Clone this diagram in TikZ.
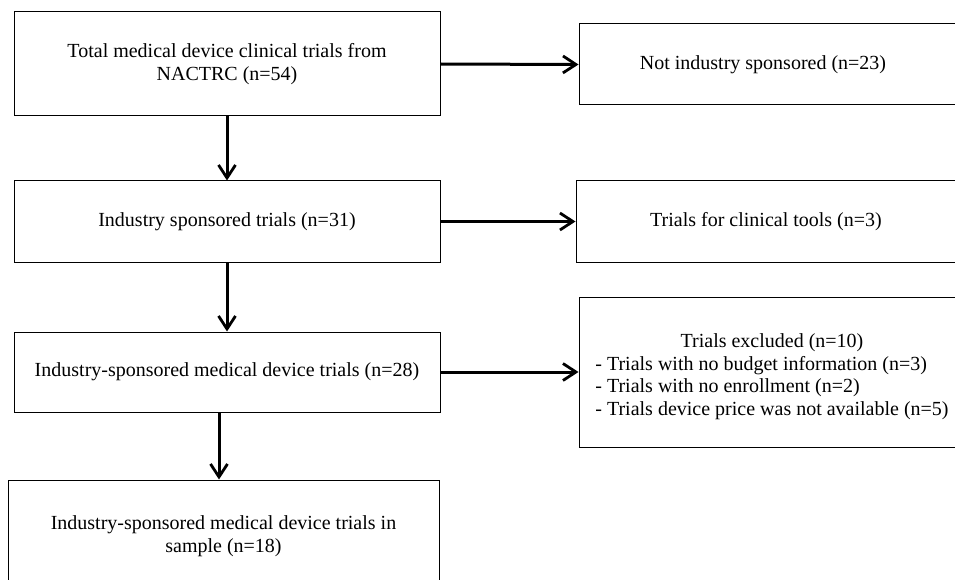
\documentclass[tikz,border=0pt]{standalone}
\usepackage{fontspec}
\setmainfont{Liberation Serif}
\usetikzlibrary{arrows.meta}
\begin{document}
\begin{tikzpicture}[x=1pt,y=-1pt,
  box/.style={draw, line width=1pt, rectangle, inner sep=0pt, align=center,
    font=\fontsize{20}{22.5}\selectfont},
  arr/.style={line width=3pt, -{Straight Barb[length=13pt,width=17pt,line width=2.8pt]}}]
\useasboundingbox (0,0) rectangle (955,580);
\clip (0,0) rectangle (955,580);
\node[box, minimum width=426pt, minimum height=104pt] (b1) at (227,64)
  {Total medical device clinical trials from\\NACTRC (n=54)};
\node[box, minimum width=386pt, minimum height=81pt] (b2) at (772,64.5)
  {Not industry sponsored (n=23)\hspace*{18pt}};
\node[box, minimum width=426pt, minimum height=81pt] (b3) at (227,221.5)
  {Industry sponsored trials (n=31)};
\node[box, minimum width=389pt, minimum height=81pt] (b4) at (770.5,221.5)
  {Trials for clinical tools (n=3)\hspace*{9pt}};
\node[box, minimum width=426pt, minimum height=80pt] (b5) at (227,372)
  {Industry-sponsored medical device trials (n=28)};
\node[box, minimum width=386pt, minimum height=150pt] (b6) at (772,372)
  {\raisebox{-5pt}[\height][\depth]{\begin{tabular}{@{}l@{}}
   \multicolumn{1}{@{}c@{}}{Trials excluded (n=10)}\\
   - Trials with no budget information (n=3)\\
   - Trials with no enrollment (n=2)\\
   - Trials device price was not available (n=5)
   \end{tabular}}};
\node[box, minimum width=431pt, minimum height=112pt] (b7) at (223.5,536)
  {Industry-sponsored medical device trials in\\sample (n=18)};
\draw[arr] (b1.east) -- (b2.west);
\draw[arr] (b1.south) -- (b3.north);
\draw[arr] (b3.east) -- (b4.west);
\draw[arr] (b3.south) -- (b5.north);
\draw[arr] (b5.east) -- (b6.west);
\draw[arr] ([xshift=-8pt]b5.south) -- ([xshift=-8pt]b5.south |- b7.north);
\end{tikzpicture}
\end{document}
